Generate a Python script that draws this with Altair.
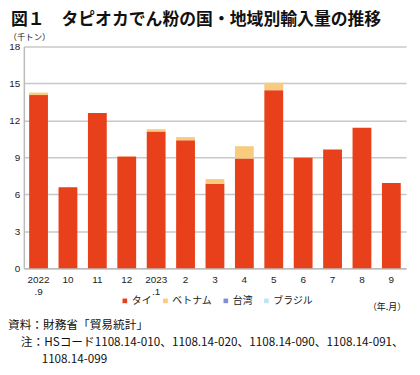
import altair as alt
import pandas as pd

months = ["2022.9", "10", "11", "12", "2023.1", "2", "3", "4", "5", "6", "7", "8", "9"]
thai = [14.05, 6.57, 12.6, 9.07, 11.1, 10.38, 6.85, 8.9, 14.45, 8.96, 9.63, 11.4, 6.92]
vietnam = [0.2, 0.0, 0.0, 0.02, 0.18, 0.26, 0.38, 1.0, 0.6, 0.0, 0.0, 0.0, 0.0]
taiwan = [0.0, 0.0, 0.0, 0.0, 0.0, 0.0, 0.0, 0.0, 0.0, 0.0, 0.0, 0.0, 0.0]
brazil = [0.0, 0.0, 0.0, 0.0, 0.0, 0.0, 0.0, 0.0, 0.0, 0.0, 0.0, 0.0, 0.0]
series = ["タイ", "ベトナム", "台湾", "ブラジル"]
colors = ["#E8401A", "#F8CB7E", "#7F8FD0", "#BFE4F2"]
y_ticks = [0, 3, 6, 9, 12, 15, 18]

rows = []
for si, (name, vals) in enumerate(zip(series, [thai, vietnam, taiwan, brazil])):
    for m, v in zip(months, vals):
        rows.append({"month": m, "series": name, "value": v, "order": si})
df = pd.DataFrame(rows)

JP = "Noto Sans CJK JP"
LAT = "Liberation Sans"

label_expr = ("datum.value == '2022.9' ? ['2022', '.9'] : "
              "datum.value == '2023.1' ? ['2023', '.1'] : datum.value")

bars = alt.Chart(df).mark_bar(width=19).encode(
    x=alt.X("month:N", sort=months,
            scale=alt.Scale(paddingInner=0.37, paddingOuter=0.185),
            axis=alt.Axis(title=None, labelAngle=0, labelExpr=label_expr,
                          ticks=False, domainColor="#bbbbbb", domainWidth=1.5,
                          labelFont=LAT, labelFontSize=10, labelColor="#222222",
                          labelPadding=6, labelLineHeight=13)),
    y=alt.Y("value:Q", stack="zero",
            scale=alt.Scale(domain=[0, 18], nice=False),
            axis=alt.Axis(values=y_ticks, title="（千トン）", titleAngle=0,
                          titleAlign="left", titleBaseline="middle",
                          titleX=-16, titleY=-10, titleFont=JP, titleFontSize=8.5,
                          titleFontWeight="normal", titleColor="#222222",
                          ticks=False, domainColor="#bbbbbb", domainWidth=1.5,
                          gridColor="#c8c8c8", gridWidth=1.5,
                          labelFont=LAT, labelFontSize=10, labelColor="#222222",
                          labelPadding=4)),
    color=alt.Color("series:N",
                    scale=alt.Scale(domain=series, range=colors),
                    legend=alt.Legend(title=None, orient="none", direction="horizontal",
                                      legendX=97, legendY=252,
                                      symbolType="square", symbolSize=22,
                                      symbolStrokeWidth=0,
                                      labelFont=JP, labelFontSize=10,
                                      labelColor="#222222", labelOffset=2,
                                      columnPadding=9)),
    order=alt.Order("order:Q"),
)

def note(text, x, y, size, align="left", weight="normal"):
    return alt.Chart(pd.DataFrame({"t": [text]})).mark_text(
        font=JP, fontSize=size, align=align, baseline="middle",
        color="#111111", fontWeight=weight
    ).encode(text="t:N", x=alt.value(x), y=alt.value(y))

title_txt = "図１　タピオカでん粉の国・地域別輸入量の推移"
source_txt = "資料：財務省「貿易統計」"
note_txt = "注：HSコード1108.14-010、1108.14-020、1108.14-090、1108.14-091、"
note2_txt = "1108.14-099"
unit_txt = "（年.月）"

chart = alt.layer(
    bars,
    note(title_txt, -13, -27, 17, weight="bold"),
    note(unit_txt, 386, 263, 9, align="right"),
    note(source_txt, -16, 281, 11.8),
    note(note_txt, -3, 299, 11.8),
    note(note2_txt, 18, 316, 11.8),
).properties(
    width=386, height=224,
    padding={"left": 16, "top": 37, "right": 6, "bottom": 98},
    autosize=alt.AutoSizeParams(type="none"),
).configure_view(stroke=None)

chart.save("out.html", embed_options={"renderer": "svg", "actions": False})
